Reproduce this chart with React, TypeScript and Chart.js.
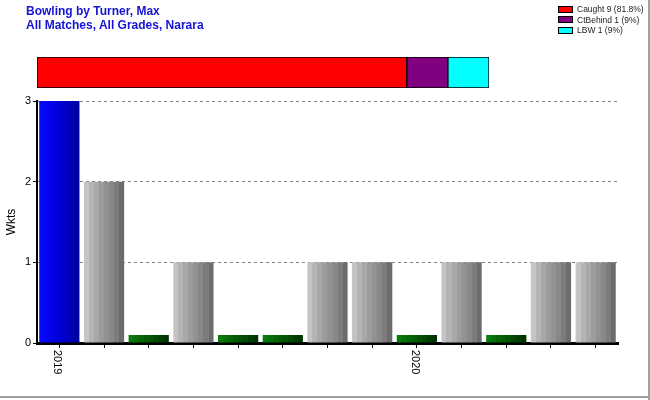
import React, { useEffect, useRef } from "react";
import { Chart, registerables } from "chart.js";

Chart.register(...registerables);

// ---- data ----
const categories = ["2019", "", "", "", "", "", "", "", "2020", "", "", "", ""];
const wickets = [3, 2, 0, 1, 0, 0, 1, 1, 0, 1, 0, 1, 1];
const barHeights = [3, 2, 0.1, 1, 0.1, 0.1, 1, 1, 0.1, 1, 0.1, 1, 1];
const yTicks = [0, 1, 2, 3];

const dismissalNames = ["Caught", "CtBehind", "LBW"];
const dismissalCounts = [9, 1, 1];
const dismissalPct = ["81.8%", "9%", "9%"];
const dismissalColors = ["#ff0000", "#800080", "#00ffff"];

const titleLines = ["Bowling by Turner, Max", "All Matches, All Grades, Narara"];

function stripeGradient(ctx: CanvasRenderingContext2D, x0: number, x1: number, colors: string[]) {
  const g = ctx.createLinearGradient(x0, 0, x1, 0);
  const n = colors.length;
  colors.forEach((c, i) => {
    g.addColorStop(i / n, c);
    g.addColorStop(Math.min(1, (i + 1) / n - 0.0001), c);
  });
  return g;
}

const greyStripes = ["#c4c4c4", "#b4b4b4", "#a8a8a8", "#9c9c9c", "#929292", "#888888", "#7c7c7c", "#6c6c6c"];
const greenStripes = ["#0a7a0a", "#087008", "#066606", "#055c05", "#045204", "#034803", "#023e02", "#013401"];

const xLabelPlugin = {
  id: "xLabels",
  afterDraw(chart: any) {
    const scale = chart.scales.x;
    const ctx = chart.ctx;
    ctx.save();
    ctx.font = "11px 'Liberation Sans', Arial, sans-serif";
    ctx.fillStyle = "#000";
    ctx.textAlign = "left";
    ctx.textBaseline = "middle";
    categories.forEach((lab, i) => {
      if (!lab) return;
      const x = scale.getPixelForValue(i) - 2;
      ctx.save();
      ctx.translate(x, scale.top + 7);
      ctx.rotate(Math.PI / 2);
      ctx.fillText(lab, 0, 0);
      ctx.restore();
    });
    ctx.restore();
  },
};

export default function App() {
  const mainRef = useRef<HTMLCanvasElement>(null);
  const topRef = useRef<HTMLCanvasElement>(null);

  useEffect(() => {
    document.body.style.margin = "0";
    const mainChart = new Chart(mainRef.current!, {
      type: "bar",
      data: {
        labels: categories,
        datasets: [
          {
            data: barHeights,
            barPercentage: 0.9,
            categoryPercentage: 1,
            backgroundColor: (c: any) => {
              const chart = c.chart;
              const sx = chart.scales?.x;
              if (!sx || c.dataIndex === undefined) return "#999";
              const cx = sx.getPixelForValue(c.dataIndex);
              const w = (sx.width / categories.length) * 0.9;
              const x0 = cx - w / 2;
              const x1 = cx + w / 2;
              if (!isFinite(x0) || !isFinite(x1) || w <= 0) return "#999";
              const ctx = chart.ctx;
              if (c.dataIndex === 0) {
                const g = ctx.createLinearGradient(x0, 0, x1, 0);
                g.addColorStop(0, "#0808ff");
                g.addColorStop(0.5, "#0000d8");
                g.addColorStop(1, "#00009a");
                return g;
              }
              return stripeGradient(ctx, x0, x1, wickets[c.dataIndex] === 0 ? greenStripes : greyStripes);
            },
          } as any,
        ],
      },
      options: {
        animation: false,
        responsive: false,
        maintainAspectRatio: false,
        layout: { padding: { top: 101, right: 32, left: 0, bottom: 0 } },
        plugins: { legend: { display: false }, tooltip: { enabled: false }, title: { display: false } },
        scales: {
          x: {
            grid: { display: true, drawOnChartArea: false, offset: false, tickLength: 5, color: "#000", lineWidth: 1 },
            border: { display: true, color: "#000", width: 3 },
            ticks: { display: false, autoSkip: false },
            afterFit: (s: any) => {
              s.height = 57;
            },
          },
          y: {
            min: 0,
            max: 3,
            afterBuildTicks: (s: any) => {
              s.ticks = yTicks.map((v) => ({ value: v }));
            },
            grid: {
              color: (c: any) => (c.tick && c.tick.value === 0 ? "rgba(0,0,0,0)" : "#808080"),
              tickColor: "#000",
              tickBorderDash: [],
              tickLength: 4,
              lineWidth: 1,
            } as any,
            border: { display: true, color: "#000", width: 2, dash: [3, 3] } as any,
            ticks: {
              color: "#000",
              font: { family: "'Liberation Sans', Arial, sans-serif", size: 11 },
              padding: 2,
            },
            title: {
              display: true,
              text: "Wkts",
              color: "#000",
              font: { family: "'Liberation Sans', Arial, sans-serif", size: 12 },
              padding: { top: 4, bottom: 0 },
            },
            afterFit: (s: any) => {
              s.width = 37;
            },
          },
        },
      },
      plugins: [xLabelPlugin],
    } as any);

    const topChart = new Chart(topRef.current!, {
      type: "bar",
      data: {
        labels: [""],
        datasets: dismissalNames.map((n, i) => ({
          label: n,
          data: [dismissalCounts[i]],
          backgroundColor: dismissalColors[i],
          borderColor: "#000",
          borderWidth: 1,
          borderSkipped: false,
          barPercentage: 1,
          categoryPercentage: 1,
        })),
      },
      options: {
        animation: false,
        responsive: false,
        maintainAspectRatio: false,
        indexAxis: "y",
        layout: { padding: 0 },
        plugins: { legend: { display: false }, tooltip: { enabled: false } },
        scales: {
          x: { stacked: true, display: false, min: 0, max: dismissalCounts.reduce((a, b) => a + b, 0) },
          y: { stacked: true, display: false },
        },
      },
    } as any);

    return () => {
      mainChart.destroy();
      topChart.destroy();
    };
  }, []);

  return (
    <div
      style={{
        position: "relative",
        width: 650,
        height: 400,
        background: "#fff",
        overflow: "hidden",
        fontFamily: "'Liberation Sans', Arial, sans-serif",
      }}
    >
      <canvas ref={mainRef} width={650} height={400} style={{ position: "absolute", left: 0, top: 0 }} />
      <canvas ref={topRef} width={452} height={31} style={{ position: "absolute", left: 37, top: 57 }} />
      <div style={{ position: "absolute", left: 26, top: 4, color: "#1414d2", fontWeight: "bold", fontSize: 12, lineHeight: "14px" }}>
        {titleLines.map((t, i) => (
          <div key={i}>{t}</div>
        ))}
      </div>
      <div style={{ position: "absolute", left: 558, top: 4, fontSize: 8.5, lineHeight: "10.5px", color: "#222" }}>
        {dismissalNames.map((n, i) => (
          <div key={n} style={{ display: "flex", alignItems: "center", whiteSpace: "nowrap" }}>
            <span
              style={{
                display: "inline-block",
                width: 13,
                height: 5,
                background: dismissalColors[i],
                border: "1px solid #000",
                marginRight: 4,
              }}
            />
            <span>{`${n} ${dismissalCounts[i]} (${dismissalPct[i]})`}</span>
          </div>
        ))}
      </div>
      <div style={{ position: "absolute", right: 0, top: 0, width: 2, height: 400, background: "#a0a0a0" }} />
      <div style={{ position: "absolute", left: 0, bottom: 2, width: 650, height: 2, background: "#a0a0a0" }} />
    </div>
  );
}
